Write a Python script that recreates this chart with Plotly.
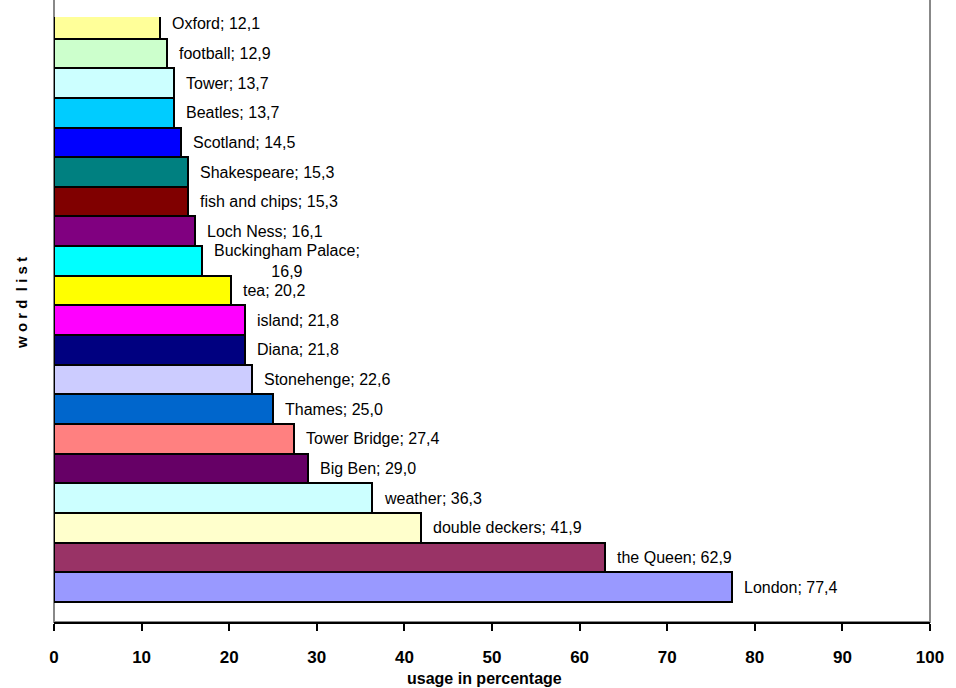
import plotly.graph_objects as go

words = ["London", "the Queen", "double deckers", "weather", "Big Ben", "Tower Bridge",
         "Thames", "Stonehenge", "Diana", "island", "tea", "Buckingham Palace",
         "Loch Ness", "fish and chips", "Shakespeare", "Scotland", "Beatles", "Tower",
         "football", "Oxford"]
usage = [77.4, 62.9, 41.9, 36.3, 29.0, 27.4, 25.0, 22.6, 21.8, 21.8, 20.2, 16.9,
         16.1, 15.3, 15.3, 14.5, 13.7, 13.7, 12.9, 12.1]
colors = ["#9999FF", "#993366", "#FFFFCC", "#CCFFFF", "#660066", "#FF8080",
          "#0066CC", "#CCCCFF", "#000080", "#FF00FF", "#FFFF00", "#00FFFF",
          "#800080", "#800000", "#008080", "#0000FF", "#00CCFF", "#CCFFFF",
          "#CCFFCC", "#FFFF99"]
xticks = [0, 10, 20, 30, 40, 50, 60, 70, 80, 90, 100]

FONT = "Liberation Sans Narrow, Arial Narrow, Liberation Sans, Arial"

fig = go.Figure()
fig.add_trace(go.Bar(
    x=usage, y=words, orientation="h",
    marker=dict(color=colors, line=dict(color="black", width=2)),
    width=1.0, hoverinfo="skip",
))

for w, v in zip(words, usage):
    label = f"{w}; {v:.1f}".replace(".", ",")
    if w == "Buckingham Palace":
        label = label.replace("; ", ";<br>")
    fig.add_annotation(x=v, y=w, text=label, showarrow=False, xanchor="left",
                       xshift=10, align="center",
                       font=dict(family=FONT, size=16, color="black"))

fig.add_annotation(xref="paper", yref="paper", x=-0.038, xanchor="center",
                   y=0.527, yanchor="middle", text="<b>w o r d  l i s t</b>",
                   textangle=-90, showarrow=False,
                   font=dict(family="Liberation Sans, Arial", size=15, color="black"))
fig.add_annotation(xref="paper", yref="paper", x=0.492, xanchor="center",
                   y=-0.093, yanchor="middle",
                   text="<b>usage in percentage</b>", showarrow=False,
                   font=dict(family="Liberation Sans, Arial", size=16, color="black"))

# plot-area frame (gray)
fig.add_shape(type="rect", xref="paper", yref="paper", x0=0, x1=1, y0=0, y1=1.05,
              line=dict(color="#888888", width=2), layer="below")

fig.update_layout(
    width=956, height=688,
    margin=dict(l=54, r=15, t=17, b=66),
    paper_bgcolor="white", plot_bgcolor="white",
    showlegend=False, bargap=0,
    xaxis=dict(range=[0, 100], tickvals=xticks, ticks="outside", ticklen=7,
               tickwidth=2, tickcolor="black", showline=True, linecolor="black",
               linewidth=2, showgrid=False, zeroline=False,
               ticklabelstandoff=12,
               tickfont=dict(family=FONT, size=17, color="black", weight=700)),
    yaxis=dict(type="category", range=[-1.18, 19.23], showticklabels=False,
               showgrid=False, zeroline=False, showline=False, ticks=""),
)

fig.write_html("out.html")
